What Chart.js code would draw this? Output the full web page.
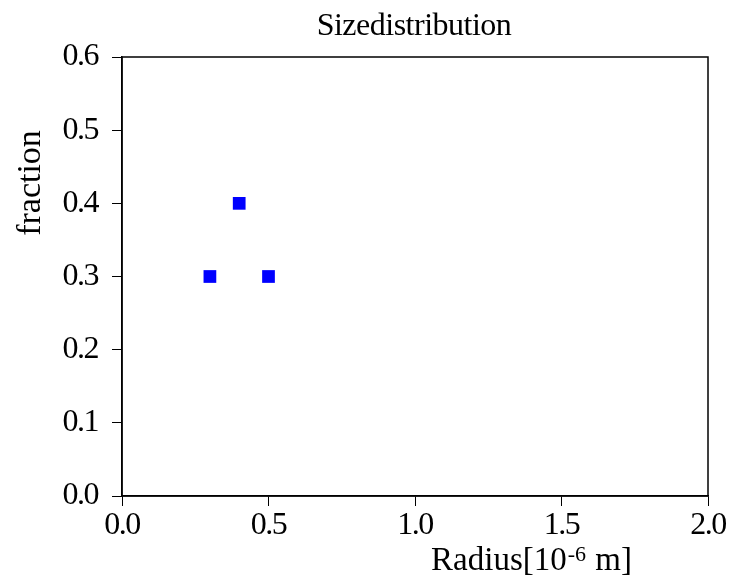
<!DOCTYPE html>
<html>
<head>
<meta charset="utf-8">
<script src="https://cdn.jsdelivr.net/npm/chart.js@4/dist/chart.umd.min.js"></script>
<style>
    html, body { margin: 0; padding: 0; background: #fff; }
    #wrap { width: 730px; height: 580px; }
</style>
</head>
<body>
<div id="wrap"><canvas id="chart" width="730" height="580"></canvas></div>
<script>
const radius = [0.3, 0.4, 0.5];
const fraction = [0.3, 0.4, 0.3];
const xTicks = [0.0, 0.5, 1.0, 1.5, 2.0];
const yTicks = [0.0, 0.1, 0.2, 0.3, 0.4, 0.5, 0.6];

const FONT = "'Liberation Serif', 'Times New Roman', serif";

// slightly tight tick label spacing, like the reference
const tightText = {
    id: 'tightText',
    beforeDraw(chart) {
        chart.ctx.letterSpacing = '-1.5px';
    },
};

// frame + titles drawn by hand so they sit where the reference has them
const decorations = {
    id: 'decorations',
    afterDraw(chart) {
        const { ctx, chartArea: a } = chart;
        ctx.save();
        ctx.letterSpacing = '0px';
        ctx.strokeStyle = '#000';
        ctx.lineWidth = 1.5;
        ctx.strokeRect(a.left, a.top, a.right - a.left, a.bottom - a.top);

        ctx.fillStyle = '#000';
        ctx.textBaseline = 'alphabetic';

        // title
        ctx.font = `32px ${FONT}`;
        ctx.letterSpacing = '-0.5px';
        ctx.textAlign = 'center';
        ctx.fillText('Sizedistribution', 414, 35);
        ctx.letterSpacing = '0px';

        // x label with superscript
        ctx.textAlign = 'left';
        const base = 'Radius[10';
        const sup = '-6';
        const rest = ' m]';
        ctx.font = `33px ${FONT}`;
        const w1 = ctx.measureText(base).width;
        const w3 = ctx.measureText(rest).width;
        ctx.font = `22px ${FONT}`;
        const w2 = ctx.measureText(sup).width;
        let x = 632 - (w1 + w2 + w3 + 2);
        ctx.font = `33px ${FONT}`;
        ctx.fillText(base, x, 570);
        x += w1 + 1;
        ctx.font = `22px ${FONT}`;
        ctx.fillText(sup, x, 561);
        x += w2 + 1;
        ctx.font = `33px ${FONT}`;
        ctx.fillText(rest, x, 570);

        // y label
        ctx.translate(40, 183);
        ctx.rotate(-Math.PI / 2);
        ctx.textAlign = 'center';
        ctx.font = `34px ${FONT}`;
        ctx.fillText('fraction', 0, 0);
        ctx.restore();
    },
};

new Chart(document.getElementById('chart'), {
    type: 'scatter',
    data: {
        datasets: [{
            data: radius.map((r, i) => ({ x: r, y: fraction[i] })),
            pointStyle: 'rect',
            pointRadius: 9,
            pointHoverRadius: 9,
            backgroundColor: '#0000ff',
            borderColor: '#0000ff',
            borderWidth: 0,
        }],
    },
    options: {
        responsive: false,
        animation: false,
        events: [],
        layout: { padding: { top: 57, right: 22, left: 0, bottom: 0 } },
        plugins: { legend: { display: false }, tooltip: { enabled: false } },
        scales: {
            x: {
                type: 'linear',
                min: 0,
                max: 2,
                afterFit: (s) => { s.height = 84; },
                afterBuildTicks: (s) => { s.ticks = xTicks.map((v) => ({ value: v })); },
                ticks: {
                    color: '#000',
                    font: { family: FONT, size: 32 },
                    padding: 0,
                    maxRotation: 0,
                    callback: (v) => Number(v).toFixed(1),
                },
                grid: { drawOnChartArea: false, tickLength: 10, color: '#000', lineWidth: 1 },
                border: { display: true, color: '#000', width: 1.5 },
            },
            y: {
                type: 'linear',
                min: 0,
                max: 0.6,
                afterFit: (s) => { s.width = 122; },
                afterBuildTicks: (s) => { s.ticks = yTicks.map((v) => ({ value: v })); },
                ticks: {
                    color: '#000',
                    font: { family: FONT, size: 32 },
                    padding: 14,
                    callback: (v) => Number(v).toFixed(1),
                },
                grid: { drawOnChartArea: false, tickLength: 10, color: '#000', lineWidth: 1 },
                border: { display: true, color: '#000', width: 1.5 },
            },
        },
    },
    plugins: [tightText, decorations],
});
</script>
</body>
</html>
